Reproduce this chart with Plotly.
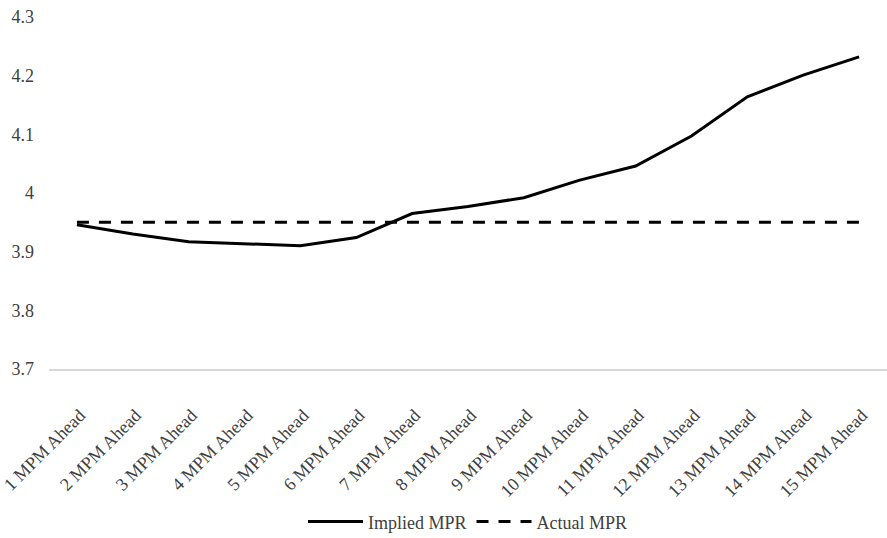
import plotly.graph_objects as go

# Forecast horizons (months of MPM meetings ahead)
categories = [f"{i} MPM Ahead" for i in range(1, 16)]

# Market-implied monetary policy rate at each horizon
implied_mpr = [3.946, 3.930, 3.917, 3.914, 3.910, 3.924, 3.965, 3.977,
               3.992, 4.022, 4.046, 4.097, 4.164, 4.201, 4.232]

# Prevailing monetary policy rate
actual_mpr = [3.95] * 15

y_ticks = [3.7, 3.8, 3.9, 4.0, 4.1, 4.2, 4.3]
y_tick_labels = ["3.7", "3.8", "3.9", "4", "4.1", "4.2", "4.3"]

FONT = "Liberation Serif"

fig = go.Figure()
fig.add_trace(go.Scatter(
    x=categories, y=implied_mpr, mode="lines", name="Implied MPR",
    line=dict(color="#000000", width=3),
))
fig.add_trace(go.Scatter(
    x=categories, y=actual_mpr, mode="lines", name="Actual MPR",
    line=dict(color="#000000", width=3, dash="12px,10px"),
))

fig.update_layout(
    width=887, height=538,
    margin=dict(l=46, r=0, t=17, b=169),
    paper_bgcolor="white", plot_bgcolor="white",
    font=dict(family=FONT, size=18, color="#404040"),
    showlegend=True,
    legend=dict(
        orientation="h", x=0.5, xanchor="center",
        yref="container", y=0.03, yanchor="middle",
        font=dict(family=FONT, size=18, color="#404040"),
        itemwidth=55,
    ),
    xaxis=dict(
        type="category", range=[-0.5, 14.5],
        tickangle=-45, showgrid=False,
        showline=True, linecolor="#d9d9d9", linewidth=1.5,
        ticks="", ticklabelstandoff=27, ticklabelshift=3,
        tickfont=dict(family=FONT, size=18, color="#404040"),
    ),
    yaxis=dict(
        range=[3.7, 4.3], tickvals=y_ticks, ticktext=y_tick_labels,
        showgrid=False, zeroline=False, showline=False,
        ticks="", ticklabelstandoff=14,
        tickfont=dict(family=FONT, size=18, color="#404040"),
    ),
)

fig.write_html("out.html")
